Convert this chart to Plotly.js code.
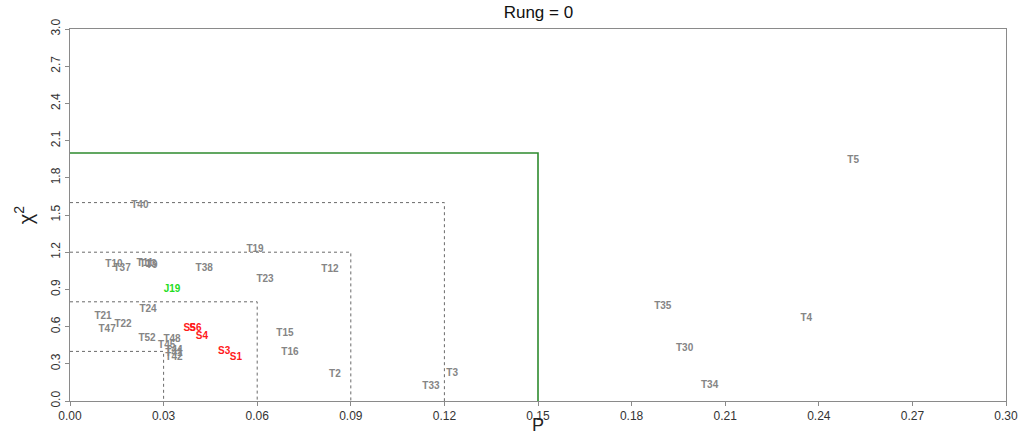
<!DOCTYPE html>
<html>
<head>
<meta charset="utf-8">
<script src="https://cdn.plot.ly/plotly-3.0.1.min.js"></script>
<style>html,body{margin:0;padding:0;background:#fff;}#chart{width:1023px;height:435px;}</style>
</head>
<body>
<div id="chart"></div>
<script>
// Grey T-labels
const tNames = ["T5","T40","T19","T12","T23","T38","T10","T37","T11","T13","T9","T24","T21","T22","T47","T52","T48","T45","T44","T41","T42","T15","T16","T2","T3","T33","T35","T4","T30","T34"];
const tP     = [0.251,0.0224,0.0593,0.0833,0.0625,0.043,0.0141,0.0167,0.0240,0.0250,0.0262,0.025,0.0106,0.017,0.0119,0.0247,0.0327,0.031,0.0333,0.0333,0.0333,0.0689,0.0705,0.0849,0.1225,0.1157,0.190,0.236,0.197,0.205];
const tChi   = [1.94,1.58,1.22,1.06,0.976,1.07,1.10,1.07,1.105,1.10,1.095,0.734,0.685,0.621,0.573,0.508,0.492,0.444,0.411,0.387,0.347,0.548,0.395,0.21,0.218,0.113,0.766,0.669,0.427,0.129];
// Red S-labels
const sNames = ["S5","S6","S4","S3","S1"];
const sP     = [0.0383,0.0402,0.0423,0.0494,0.0532];
const sChi   = [0.583,0.583,0.524,0.403,0.347];
// Green J-label
const jNames = ["J19"];
const jP     = [0.0327];
const jChi   = [0.903];
// Nested threshold boxes
const boxP   = [0.03,0.06,0.09,0.12];
const boxChi = [0.4,0.8,1.2,1.6];
const mainBoxP = 0.15, mainBoxChi = 2.0;

const traces = [];
function boxTrace(px, py, line){
  return {x:[0,px,px], y:[py,py,0], mode:'lines', line:line, hoverinfo:'skip', showlegend:false, cliponaxis:false};
}
for (let i=0;i<boxP.length;i++){
  traces.push(boxTrace(boxP[i], boxChi[i], {color:'#6a6a6a', width:1, dash:'3px,3px'}));
}
traces.push(boxTrace(mainBoxP, mainBoxChi, {color:'#2e8b2e', width:1.6}));

const lblFont = (c)=>({family:'Liberation Sans, Arial, sans-serif', size:10, color:c, weight:'bold'});
traces.push({x:tP, y:tChi, text:tNames, mode:'text', textposition:'middle center', textfont:lblFont('#858585'), showlegend:false});
traces.push({x:sP, y:sChi, text:sNames, mode:'text', textposition:'middle center', textfont:lblFont('#ff1a1a'), showlegend:false});
traces.push({x:jP, y:jChi, text:jNames, mode:'text', textposition:'middle center', textfont:lblFont('#22dd22'), showlegend:false});

const layout = {
  width:1023, height:435,
  margin:{l:70, r:17, t:29, b:34},
  paper_bgcolor:'#fff', plot_bgcolor:'#fff',
  font:{family:'Liberation Sans, Arial, sans-serif', color:'#222'},
  title:{text:'Rung = 0', x:0.5263, xanchor:'center', y:0.985, yanchor:'top', font:{size:17, color:'#111'}},
  xaxis:{range:[0,0.30], dtick:0.03, tick0:0, tickformat:'.2f', showgrid:false, zeroline:false,
         showline:true, mirror:true, linecolor:'#8a8a8a', linewidth:1,
         ticks:'outside', ticklen:4, tickcolor:'#8a8a8a', tickfont:{size:12, color:'#333'},
         title:{text:'P', font:{size:18, color:'#222'}, standoff:0}},
  yaxis:{range:[0,3.0], dtick:0.3, tick0:0, tickformat:'.1f', showgrid:false, zeroline:false,
         showline:true, mirror:true, linecolor:'#8a8a8a', linewidth:1,
         ticks:'outside', ticklen:4, tickcolor:'#8a8a8a', tickangle:-90, tickfont:{size:12, color:'#333'},
         title:{text:'χ<sup>2</sup>', font:{size:20, color:'#222'}, standoff:10}}
};
Plotly.newPlot('chart', traces, layout, {displayModeBar:false, staticPlot:true});
</script>
</body>
</html>
